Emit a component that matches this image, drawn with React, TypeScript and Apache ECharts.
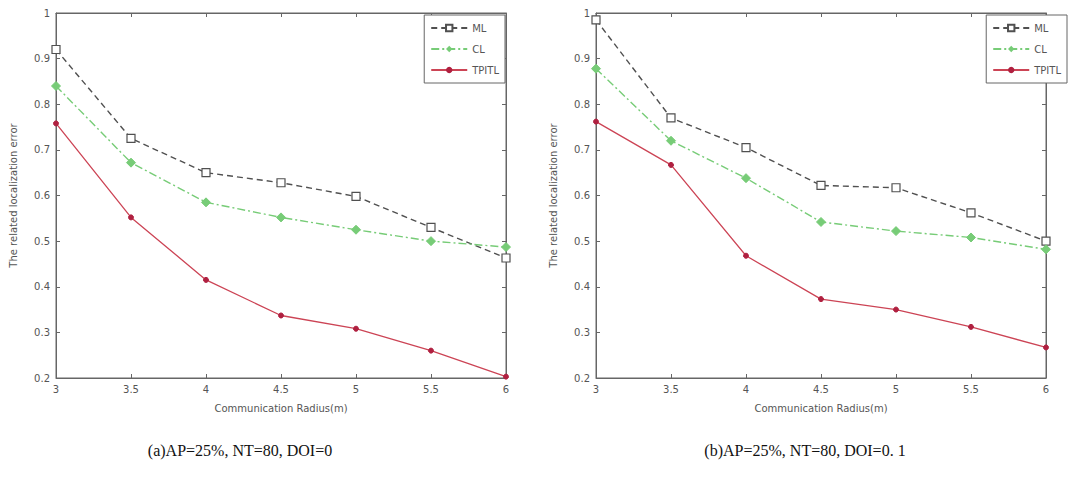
import React, { useEffect, useRef } from "react";
import * as echarts from "echarts";

const radius = [3, 3.5, 4, 4.5, 5, 5.5, 6];
const mlA = [0.92, 0.725, 0.65, 0.628, 0.598, 0.53, 0.463];
const clA = [0.84, 0.672, 0.585, 0.552, 0.525, 0.5, 0.487];
const tpA = [0.758, 0.552, 0.415, 0.337, 0.308, 0.26, 0.203];
const mlB = [0.985, 0.77, 0.705, 0.622, 0.617, 0.562, 0.5];
const clB = [0.878, 0.72, 0.638, 0.542, 0.522, 0.508, 0.482];
const tpB = [0.762, 0.667, 0.468, 0.373, 0.35, 0.312, 0.267];
const seriesNames = ["ML", "CL", "TPITL"];
const captions = ["(a)AP=25%, NT=80, DOI=0", "(b)AP=25%, NT=80, DOI=0. 1"];

const axisColor = "#666";
const labelColor = "#555";
const mlColor = "#505050";
const clColor = "#77cc77";
const tpColor = "#cc4455";

export default function App() {
  const ref = useRef<HTMLDivElement>(null);
  useEffect(() => {
    document.body.style.margin = "0";
    const chart = echarts.init(ref.current!, null, { renderer: "svg" });
    const grids = [
      { left: 56, top: 13, width: 450, height: 365, show: true, borderColor: axisColor, borderWidth: 1 },
      { left: 596, top: 13, width: 450, height: 365, show: true, borderColor: axisColor, borderWidth: 1 },
    ];
    const xAxis: any[] = [];
    const yAxis: any[] = [];
    [0, 1].forEach((g) => {
      xAxis.push({
        type: "value", gridIndex: g, min: 3, max: 6, interval: 0.5, position: "bottom",
        name: "Communication Radius(m)", nameLocation: "middle", nameGap: 25,
        nameTextStyle: { color: labelColor, fontSize: 10, fontFamily: "DejaVu Sans" },
        axisLine: { show: true, lineStyle: { color: axisColor } },
        axisTick: { show: true, inside: true, length: 4, lineStyle: { color: axisColor } },
        axisLabel: { color: labelColor, fontSize: 10, margin: 6, fontFamily: "DejaVu Sans" },
        splitLine: { show: false },
      });
      xAxis.push({
        type: "value", gridIndex: g, min: 3, max: 6, interval: 0.5, position: "top",
        axisLine: { show: true, lineStyle: { color: axisColor } },
        axisTick: { show: true, inside: true, length: 4, lineStyle: { color: axisColor } },
        axisLabel: { show: false }, splitLine: { show: false },
      });
      yAxis.push({
        type: "value", gridIndex: g, min: 0.2, max: 1, interval: 0.1, position: "left",
        name: "The related localization error", nameLocation: "middle", nameGap: 38,
        nameTextStyle: { color: labelColor, fontSize: 10, fontFamily: "DejaVu Sans" },
        axisLine: { show: true, lineStyle: { color: axisColor } },
        axisTick: { show: true, inside: true, length: 4, lineStyle: { color: axisColor } },
        axisLabel: { color: labelColor, fontSize: 10, margin: 6, fontFamily: "DejaVu Sans",
          formatter: (v: number) => String(Math.round(v * 10) / 10) },
        splitLine: { show: false },
      });
      yAxis.push({
        type: "value", gridIndex: g, min: 0.2, max: 1, interval: 0.1, position: "right",
        axisLine: { show: true, lineStyle: { color: axisColor } },
        axisTick: { show: true, inside: true, length: 4, lineStyle: { color: axisColor } },
        axisLabel: { show: false }, splitLine: { show: false },
      });
    });
    const mk = (name: string, data: number[], g: number) => {
      const pts = radius.map((r, i) => [r, data[i]]);
      const base: any = {
        type: "line", name, data: pts, xAxisIndex: g * 2, yAxisIndex: g * 2,
      };
      if (name === "ML") {
        return { ...base, symbol: "rect", symbolSize: 8, itemStyle: { color: "#fff", borderColor: mlColor, borderWidth: 1.2 },
          lineStyle: { color: mlColor, width: 1.4, type: [6, 4] }, color: mlColor };
      }
      if (name === "CL") {
        return { ...base, symbol: "diamond", symbolSize: 9, itemStyle: { color: clColor, borderColor: clColor },
          lineStyle: { color: clColor, width: 1.4, type: [8, 3, 2, 3] }, color: clColor };
      }
      return { ...base, symbol: "circle", symbolSize: 5, itemStyle: { color: "#b02040", borderColor: "#b02040" },
        lineStyle: { color: tpColor, width: 1.3 }, color: tpColor };
    };
    const series = [
      mk("ML", mlA, 0), mk("CL", clA, 0), mk("TPITL", tpA, 0),
      mk("ML", mlB, 1), mk("CL", clB, 1), mk("TPITL", tpB, 1),
    ].map((s: any, idx) => ({ ...s, id: "s" + idx }));
    const legendBase = {
      data: seriesNames, orient: "vertical", top: 15, itemWidth: 36, itemHeight: 8, itemGap: 11,
      borderColor: axisColor, borderWidth: 1, backgroundColor: "#fff", padding: [8, 6, 8, 6],
      textStyle: { color: labelColor, fontSize: 10, fontFamily: "DejaVu Sans" },
    };
    chart.setOption({
      animation: false,
      backgroundColor: "#fff",
      grid: grids,
      xAxis, yAxis,
      legend: [
        { ...legendBase, right: 1068 - 506 + 1 },
        { ...legendBase, right: 1 },
      ],
      title: [
        { text: captions[0], left: 235, top: 437, textAlign: "center",
          textStyle: { fontFamily: "Liberation Serif", fontSize: 16, fontWeight: "normal", color: "#111" } },
        { text: captions[1], left: 800, top: 437, textAlign: "center",
          textStyle: { fontFamily: "Liberation Serif", fontSize: 16, fontWeight: "normal", color: "#111" } },
      ],
      series,
    });
    return () => chart.dispose();
  }, []);
  return <div ref={ref} style={{ width: 1068, height: 480 }} />;
}
